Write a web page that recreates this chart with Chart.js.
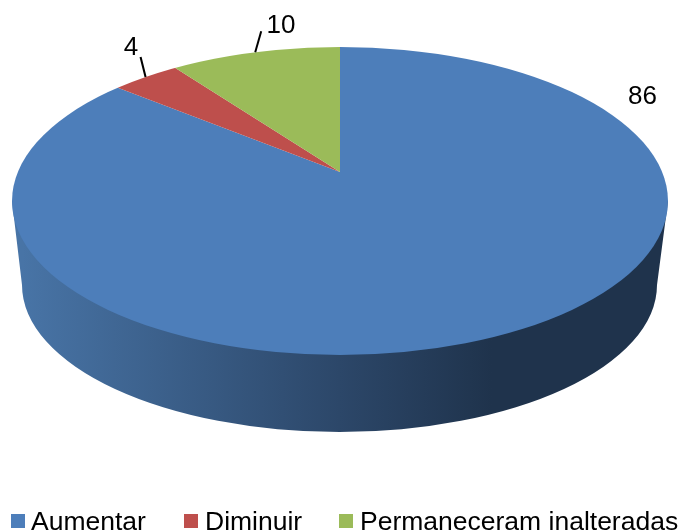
<!DOCTYPE html>
<html>
<head>
<meta charset="utf-8">
<style>
  html, body { margin: 0; padding: 0; background: #fff; overflow: hidden; }
  canvas { display: block; }
</style>
<script src="https://cdn.jsdelivr.net/npm/chart.js@4"></script>
</head>
<body>
<canvas id="pie3d" width="678" height="530"></canvas>
<script>
const categories = ['Aumentar', 'Diminuir', 'Permaneceram inalteradas'];
const values = [86, 4, 10];
const sliceColors = ['#4D7EBA', '#BE4F4C', '#9BBB59'];

// where the legend boxes and the value labels sit
const legendBoxX = [11, 184, 339];
const legendTextX = [31, 205, 360];
const labelSpots = [
  { x: 642.5, y: 104 },
  { x: 131, y: 55, lead: [-5, -20] },
  { x: 281, y: 33, lead: [6, -21] }
];

// top face is a tilted ellipse, slices meet at the apex above its centre
const top3d = { x: 340, y: 201, rx: 328, ry: 154 };
const low3d = { x: 339.5, y: 285, rx: 317.5, ry: 147 };
const apex = { x: 340, y: 172, reachX: 414, reachY: 190 };

function rimPoint(angle) {
  // ray from the apex to the edge of the top ellipse, angle is canvas style
  const dx = Math.cos(angle) * apex.reachX, dy = Math.sin(angle) * apex.reachY;
  const oy = apex.y - top3d.y, ox = apex.x - top3d.x;
  const a = (dx * dx) / (top3d.rx * top3d.rx) + (dy * dy) / (top3d.ry * top3d.ry);
  const b = 2 * ((ox * dx) / (top3d.rx * top3d.rx) + (oy * dy) / (top3d.ry * top3d.ry));
  const c = (ox * ox) / (top3d.rx * top3d.rx) + (oy * oy) / (top3d.ry * top3d.ry) - 1;
  const t = (-b + Math.sqrt(b * b - 4 * a * c)) / (2 * a);
  return { x: apex.x + dx * t, y: apex.y + dy * t };
}

const pie3dPlugin = {
  id: 'pie3d',
  beforeDatasetsDraw(chart) {
    const ctx = chart.ctx;
    const arc = chart.getDatasetMeta(0).data[0];

    // side wall
    const grad = ctx.createLinearGradient(low3d.x - low3d.rx, 0, low3d.x + low3d.rx, 0);
    grad.addColorStop(0, '#4874A6');
    grad.addColorStop(0.5, '#2C4769');
    grad.addColorStop(0.74, '#1F334C');
    grad.addColorStop(1, '#1F334C');
    ctx.save();
    ctx.beginPath();
    ctx.moveTo(top3d.x - top3d.rx, top3d.y);
    ctx.lineTo(low3d.x - low3d.rx, low3d.y);
    ctx.ellipse(low3d.x, low3d.y, low3d.rx, low3d.ry, 0, Math.PI, 0, true);
    ctx.lineTo(top3d.x + top3d.rx, top3d.y);
    ctx.closePath();
    ctx.fillStyle = grad;
    ctx.fill();
    ctx.restore();

    // squash the library's slices onto the top face
    ctx.save();
    ctx.beginPath();
    ctx.ellipse(top3d.x, top3d.y, top3d.rx, top3d.ry, 0, 0, Math.PI * 2);
    ctx.clip();
    ctx.translate(apex.x, apex.y);
    ctx.scale(apex.reachX / arc.outerRadius, apex.reachY / arc.outerRadius);
    ctx.translate(-arc.x, -arc.y);
  },
  afterDatasetsDraw(chart) {
    const ctx = chart.ctx;
    ctx.restore();

    const arcs = chart.getDatasetMeta(0).data;
    ctx.save();
    ctx.fillStyle = '#000';
    ctx.strokeStyle = '#000';
    ctx.lineWidth = 2;
    ctx.font = '26px "Liberation Sans", Arial, sans-serif';
    ctx.textAlign = 'center';
    ctx.textBaseline = 'alphabetic';
    values.forEach((v, i) => {
      const spot = labelSpots[i];
      ctx.fillText(String(v), spot.x, spot.y);
      if (spot.lead) {
        const p = rimPoint((arcs[i].startAngle + arcs[i].endAngle) / 2);
        ctx.beginPath();
        ctx.moveTo(p.x, p.y);
        ctx.lineTo(p.x + spot.lead[0], p.y + spot.lead[1]);
        ctx.stroke();
      }
    });

    // legend
    ctx.textAlign = 'left';
    ctx.font = '26.5px "Liberation Sans", Arial, sans-serif';
    categories.forEach((name, i) => {
      ctx.fillStyle = sliceColors[i];
      ctx.fillRect(legendBoxX[i], 514, 14, 14);
      ctx.fillStyle = '#000';
      ctx.fillText(name, legendTextX[i], 530);
    });
    ctx.restore();
  }
};

new Chart(document.getElementById('pie3d'), {
  type: 'pie',
  data: {
    labels: categories,
    datasets: [{
      data: values,
      backgroundColor: sliceColors,
      borderWidth: 0,
      clip: false
    }]
  },
  options: {
    responsive: false,
    animation: false,
    plugins: {
      legend: { display: false },
      tooltip: { enabled: false }
    }
  },
  plugins: [pie3dPlugin]
});
</script>
</body>
</html>
